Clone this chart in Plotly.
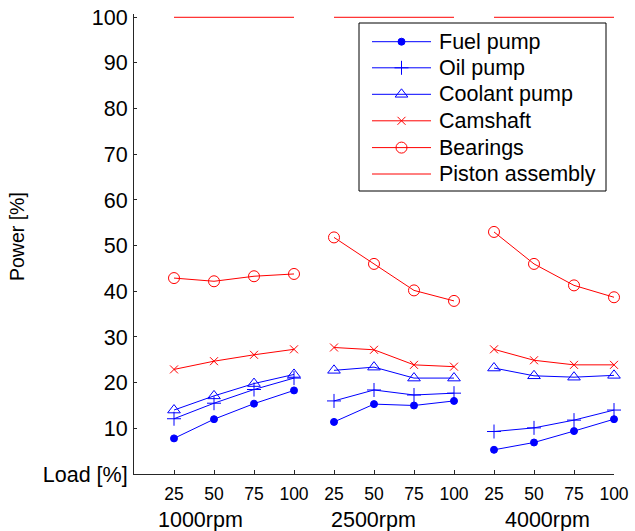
import plotly.graph_objects as go

# Engine friction power share by component, per speed and load
loads = [25, 50, 75, 100]
speeds = ["1000rpm", "2500rpm", "4000rpm"]

fuel_pump = [7.8, 12.0, 15.4, 18.3, 11.4, 15.3, 15.0, 16.0, 5.3, 6.9, 9.4, 12.0]
oil_pump = [12.1, 15.5, 18.5, 21.0, 16.0, 18.4, 17.3, 17.7, 9.3, 10.1, 11.8, 14.0]
coolant_pump = [14.0, 17.1, 19.8, 21.8, 22.7, 23.4, 21.0, 21.0, 23.2, 21.5, 21.2, 21.6]
camshaft = [22.9, 24.7, 26.1, 27.3, 27.7, 27.2, 23.9, 23.5, 27.3, 24.9, 23.9, 23.9]
bearings = [42.9, 42.2, 43.3, 43.8, 51.8, 46.0, 40.2, 37.9, 53.0, 46.0, 41.3, 38.7]
piston_assembly = [100, 100, 100, 100, 100, 100, 100, 100, 100, 100, 100, 100]

y_ticks = [0, 10, 20, 30, 40, 50, 60, 70, 80, 90, 100]

BLUE = "#0000FF"
RED = "#FF0000"
FONT = "Liberation Sans, Arial, sans-serif"
AX = "#262626"

# Plot area in pixels (left, right, top, bottom)
PL, PR, PT, PB = 134, 614, 14, 474


def px_x(px):
    return (px - PL) / (PR - PL)


def px_y(py):
    return (PB - py) / (PB - PT)


series = [
    ("Fuel pump", fuel_pump, BLUE, "circle", 7),
    ("Oil pump", oil_pump, BLUE, "cross-thin", 10),
    ("Coolant pump", coolant_pump, BLUE, "triangle-up-open", 11),
    ("Camshaft", camshaft, RED, "x-thin", 8),
    ("Bearings", bearings, RED, "circle-open", 11),
    ("Piston assembly", piston_assembly, RED, None, 0),
]


def grouped(values):
    """Split a 12-point series into one segment per speed (gaps between)."""
    xs, ys = [], []
    n = len(loads)
    for g in range(len(speeds)):
        for i in range(n):
            xs.append(g * n + i + 1)
            ys.append(values[g * n + i])
        xs.append(None)
        ys.append(None)
    return xs, ys


fig = go.Figure()

for name, vals, color, symbol, size in series:
    xs, ys = grouped(vals)
    if symbol is None:
        fig.add_trace(go.Scatter(x=xs, y=ys, mode="lines", name=name,
                                 line=dict(color=color, width=1),
                                 cliponaxis=False,
                                 showlegend=False, hoverinfo="skip"))
    else:
        fig.add_trace(go.Scatter(
            x=xs, y=ys, mode="lines+markers", name=name,
            line=dict(color=color, width=1),
            marker=dict(symbol=symbol, size=size, color=color,
                        line=dict(color=color, width=1)),
            cliponaxis=False, showlegend=False, hoverinfo="skip"))

# Framed legend drawn on a pixel-scaled overlay axis
row_y = [41.7, 67.8, 94.3, 120.8, 147.6, 174.0]
lx0, lx1, lmid, ltext = 372, 431, 401.5, 437
for (name, vals, color, symbol, size), ry in zip(series, row_y):
    fig.add_trace(go.Scatter(x=[lx0, lx1], y=[ry, ry], mode="lines",
                             line=dict(color=color, width=1),
                             xaxis="x2", yaxis="y2", showlegend=False,
                             hoverinfo="skip"))
    if symbol is not None:
        fig.add_trace(go.Scatter(
            x=[lmid], y=[ry], mode="markers",
            marker=dict(symbol=symbol, size=size, color=color,
                        line=dict(color=color, width=1)),
            xaxis="x2", yaxis="y2", showlegend=False, hoverinfo="skip"))
    fig.add_annotation(x=ltext, y=ry, xref="x2", yref="y2", text=name,
                       showarrow=False, xanchor="left", yanchor="middle",
                       font=dict(family=FONT, size=21.5, color="black"))

fig.add_shape(type="rect", xref="x2", yref="y2", x0=359, x1=606, y0=23, y1=191,
              line=dict(color="black", width=1), fillcolor="white", layer="below")

# Speed group labels under the load ticks
for label, cx in zip(speeds, [200, 373, 547]):
    fig.add_annotation(x=px_x(cx), y=px_y(520), xref="paper", yref="paper",
                       text=label, showarrow=False, xanchor="center",
                       yanchor="middle",
                       font=dict(family=FONT, size=21.5, color="black"))

# Vertical axis title
fig.add_annotation(x=px_x(17), y=px_y(237), xref="paper", yref="paper",
                   text="Power [%]", textangle=-90, showarrow=False,
                   xanchor="center", yanchor="middle",
                   font=dict(family=FONT, size=19.5, color="black"))

x_tickvals = list(range(1, len(speeds) * len(loads) + 1))
x_ticktext = [str(l) for _ in speeds for l in loads]
y_ticktext = ["Load [%]"] + [str(v) for v in y_ticks[1:]]

fig.update_layout(
    width=635, height=531,
    margin=dict(l=PL, r=635 - PR, t=PT, b=531 - PB, pad=0),
    paper_bgcolor="white", plot_bgcolor="white",
    showlegend=False,
    font=dict(family=FONT, color="black"),
    xaxis=dict(range=[0, 12], tickvals=x_tickvals, ticktext=x_ticktext,
               showgrid=False, zeroline=False, showline=True, linecolor=AX,
               linewidth=1, ticks="inside", ticklen=4, tickcolor=AX,
               tickfont=dict(family=FONT, size=17.5, color="black"),
               ticklabelstandoff=4, automargin=False, fixedrange=True),
    yaxis=dict(range=[0, 100.72], tickvals=y_ticks, ticktext=y_ticktext,
               showgrid=False, zeroline=False, showline=True, linecolor=AX,
               linewidth=1, ticks="inside", ticklen=3, tickcolor=AX,
               tickfont=dict(family=FONT, size=21.5, color="black"),
               ticklabelstandoff=1, automargin=False, fixedrange=True),
    xaxis2=dict(range=[PL, PR], overlaying="x", visible=False,
                fixedrange=True),
    yaxis2=dict(range=[PB, PT], overlaying="y", visible=False,
                fixedrange=True),
)

fig.write_html("out.html")
